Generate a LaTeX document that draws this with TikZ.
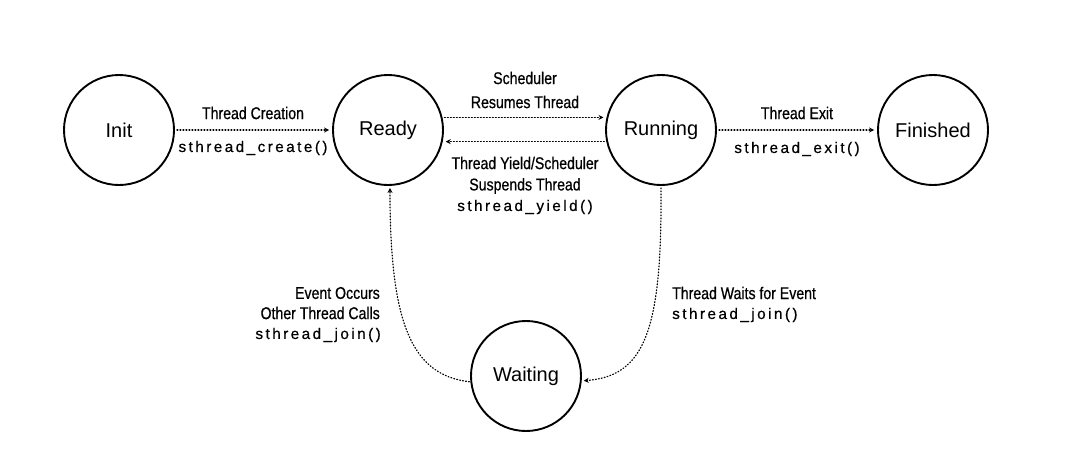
\documentclass[tikz,border=0pt]{standalone}
\usepackage{fontspec}
\setmainfont{Liberation Sans}
\newfontfamily\labfont[FakeStretch=0.83,FakeBold=0.6]{Liberation Sans}
\newfontfamily\codefont[LetterSpace=16,FakeBold=0.5]{Liberation Sans}
\usetikzlibrary{arrows.meta}
\begin{document}
\begin{tikzpicture}[x=1pt,y=-1pt,
  state/.style={circle,draw,line width=1.9pt,minimum size=110pt,inner sep=0pt,
    font=\fontsize{20}{24}\selectfont},
  trans/.style={line width=1.2pt,dash pattern=on 0.9pt off 2.1pt,line cap=round,
    -{Stealth[length=5pt,width=5pt,line cap=butt]}},
  lab/.style={inner sep=0pt,font=\labfont\fontsize{17}{20}\selectfont},
  code/.style={inner sep=0pt,font=\codefont\fontsize{15.3}{18}\selectfont}]
\useasboundingbox[fill=white] (0,0) rectangle (1082,474);

% states
\node[state] (init) at (119,130) {Init};
\node[state] (ready) at (388,130) {Ready};
\node[state] (running) at (661,130) {Running};
\node[state] (finished) at (933,130) {Finished};
\node[state] (waiting) at (526,376) {Waiting};

% transitions
\draw[trans,shorten <=2pt,shorten >=3pt] (init) -- (ready);
\draw[trans,shorten <=2pt,shorten >=3pt] (ready.13) -- (running.167);
\draw[trans,shorten <=2pt,shorten >=3pt] (running.-168) -- (ready.-12);
\draw[trans,shorten <=2pt,shorten >=3pt] (running) -- (finished);
\draw[trans,shorten <=2pt,shorten >=2pt] (running.south) .. controls (662,330) and (645,376) .. (waiting.-5);
\draw[trans,shorten <=1pt,shorten >=2pt] (waiting.186) .. controls (410,375) and (390,320) .. (ready.-88);

% transition labels
\node[lab] (l1) at (253,113) {Thread Creation};
\node[code] (c1) at (253,148) {sthread\_create()};
\node[lab] (l2a) at (525,78) {Scheduler};
\node[lab] (l2b) at (525,102) {Resumes Thread};
\node[lab] (l3a) at (525,163) {Thread Yield/Scheduler};
\node[lab] (l3b) at (525,186) {Suspends Thread};
\node[code] (c3) at (525,207) {sthread\_yield()};
\node[lab] (l4) at (797,113) {Thread Exit};
\node[code] (c4) at (797,149) {sthread\_exit()};
\node[lab,anchor=east] (l5a) at (380,293) {Event Occurs};
\node[lab,anchor=east] (l5b) at (380,313) {Other Thread Calls};
\node[code,anchor=east] (c5) at (381,335) {sthread\_join()};
\node[lab,anchor=west] (l6) at (672,293) {Thread Waits for Event};
\node[code,anchor=west] (c6) at (672,315) {sthread\_join()};
\end{tikzpicture}
\end{document}
